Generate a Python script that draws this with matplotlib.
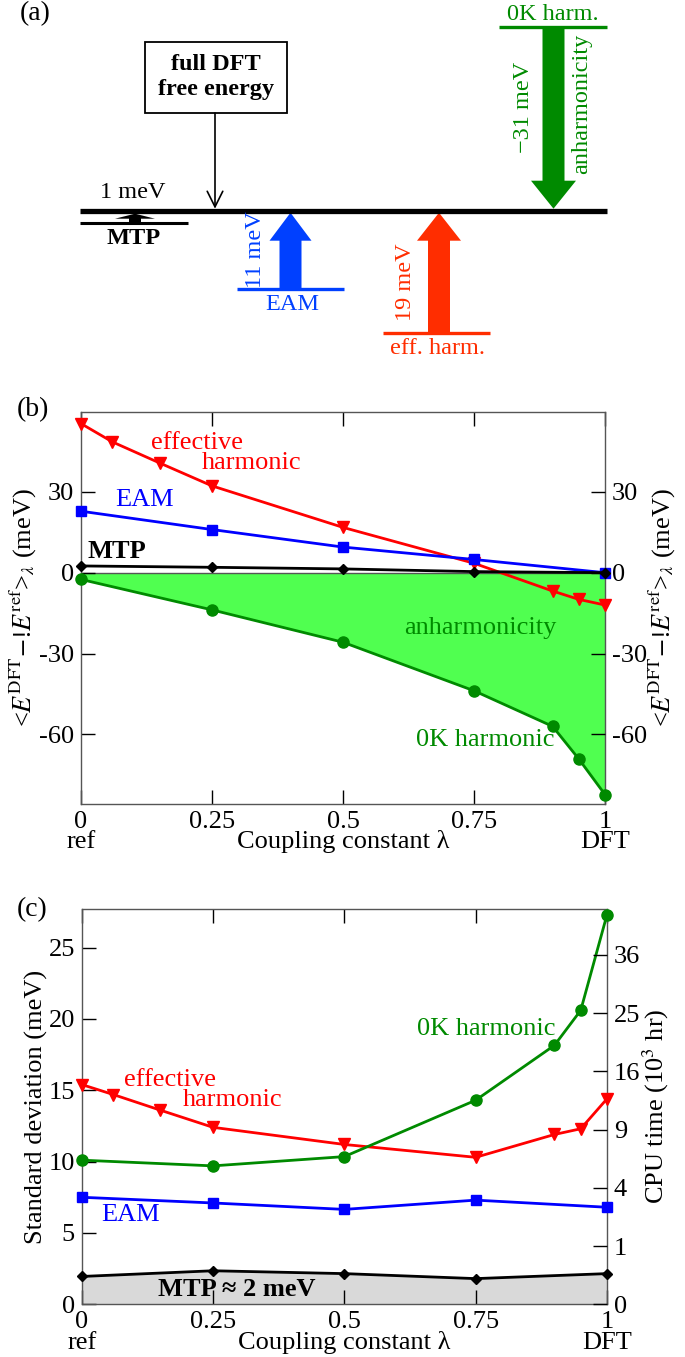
import numpy as np
import matplotlib.pyplot as plt
from matplotlib.patches import FancyArrow, Rectangle

plt.rcParams['font.family'] = ['Liberation Serif', 'DejaVu Serif']
plt.rcParams['mathtext.fontset'] = 'stix'
plt.rcParams['font.size'] = 19

# ---- data ----
lam_fine = [0, 0.06, 0.15, 0.25, 0.5, 0.75, 0.9, 0.95, 1]
lam_coarse = [0, 0.25, 0.5, 0.75, 1]
lam_0k = [0, 0.25, 0.5, 0.75, 0.9, 0.95, 1]

# (b) <E_DFT - E_ref>_lambda (meV)
b_effharm = [55.3, 48.5, 40.7, 32.2, 16.8, 3.5, -6.8, -9.9, -12.0]
b_eam = [22.8, 16.0, 9.5, 4.9, 0.0]
b_mtp = [2.5, 2.0, 1.4, 0.4, 0.0]
b_0k = [-2.5, -13.8, -25.8, -43.8, -57.0, -69.1, -82.3]

# (c) standard deviation (meV)
c_effharm = [15.4, 14.7, 13.6, 12.4, 11.2, 10.3, 11.9, 12.3, 14.4]
c_eam = [7.5, 7.1, 6.65, 7.3, 6.8]
c_mtp = [1.95, 2.35, 2.15, 1.8, 2.15]
c_0k = [10.1, 9.7, 10.35, 14.3, 18.15, 20.6, 27.3]

cpu_ticks = [0, 1, 4, 9, 16, 25, 36]   # 10^3 hr, sqrt scale
xticks = [0, 0.25, 0.5, 0.75, 1]
xticklabels = ['0', '0.25', '0.5', '0.75', '1']

# (a) free energy differences to full DFT (meV)
a_names = ['MTP', 'EAM', 'eff. harm.', '0K harm.']
a_values = [1, 11, 19, -31]

RED = '#ff0000'
BLUE = '#0000ff'
GREEN = '#008a00'
BLACK = '#000000'
FS = 19
FSA = 17.5

fig = plt.figure(figsize=(6.85, 13.57), dpi=100)

# ---------------- panel (a): schematic ----------------
axa = fig.add_axes([0, 1 - 360 / 1357, 1, 360 / 1357])
axa.set_xlim(0, 685)
axa.set_ylim(360, 0)
axa.axis('off')
axa.text(20, 14, '(a)', fontsize=20, va='center')

base_y = 210.7
axa.plot([80, 607], [base_y, base_y], color='k', lw=3.8, solid_capstyle='butt')

# full DFT box + thin arrow
axa.add_patch(Rectangle((145, 42), 142, 71, fill=False, ec='k', lw=1.3))
axa.text(216, 77, 'full DFT\nfree energy', ha='center', va='center',
         fontsize=FSA, fontweight='bold', linespacing=1.2)
axa.annotate('', xy=(215, base_y - 2), xytext=(215, 113),
             arrowprops=dict(arrowstyle='->', lw=1.2, color='k',
                             mutation_scale=28, shrinkA=0, shrinkB=0))

# MTP
axa.plot([80, 188], [222.7, 222.7], color='k', lw=2.2, solid_capstyle='butt')
axa.add_patch(FancyArrow(135, 222.7, 0, -9, width=12, head_width=40,
                         head_length=5, length_includes_head=True,
                         color='k', lw=0))
axa.text(133, 193, '%d meV' % a_values[0], ha='center', va='center', fontsize=FSA)
axa.text(134, 238, a_names[0], ha='center', va='center', fontsize=FSA,
         fontweight='bold')

# EAM
ca = '#0040ff'
axa.plot([237, 344], [289, 289], color=ca, lw=2.4, solid_capstyle='butt')
axa.add_patch(FancyArrow(290.5, 289, 0, -(289 - base_y - 2), width=22,
                         head_width=42, head_length=28,
                         length_includes_head=True, color=ca, lw=0))
axa.text(256, 250, '%d meV' % a_values[1], ha='center', va='center',
         rotation=90, color=ca, fontsize=FSA)
axa.text(292, 304, a_names[1], ha='center', va='center', color=ca, fontsize=FSA)

# effective harmonic
cr = '#ff2d00'
axa.plot([383, 490], [333, 333], color=cr, lw=2.4, solid_capstyle='butt')
axa.add_patch(FancyArrow(439, 333, 0, -(333 - base_y - 2), width=22,
                         head_width=44, head_length=28,
                         length_includes_head=True, color=cr, lw=0))
axa.text(406, 282, '%d meV' % a_values[2], ha='center', va='center',
         rotation=90, color=cr, fontsize=FSA)
axa.text(438, 349, a_names[2], ha='center', va='center', color=cr, fontsize=FSA)

# 0K harmonic
cg = '#008a00'
axa.plot([499, 607], [27, 27], color=cg, lw=2.4, solid_capstyle='butt')
axa.add_patch(FancyArrow(553.5, 27, 0, base_y - 2 - 27, width=22,
                         head_width=45, head_length=28,
                         length_includes_head=True, color=cg, lw=0))
axa.text(553, 14, a_names[3], ha='center', va='center', color=cg, fontsize=FSA)
axa.text(524, 107, '\u2212%d meV' % abs(a_values[3]), ha='center', va='center',
         rotation=90, color=cg, fontsize=FSA)
axa.text(582, 104, 'anharmonicity', ha='center', va='center',
         rotation=90, color=cg, fontsize=FSA)


def style_axes(ax):
    for s in ax.spines.values():
        s.set_color('#555555')
        s.set_linewidth(1.0)
    ax.tick_params(direction='in', length=10, width=1, top=True,
                   labelsize=FS, pad=5)
    ax.set_xlim(0, 1)
    ax.set_xticks(xticks)
    ax.set_xticklabels(xticklabels)
    for txt, xf in [('ref', 0), ('Coupling constant \u03bb', 0.5), ('DFT', 1)]:
        ax.annotate(txt, xy=(xf, 0), xycoords='axes fraction',
                    xytext=(0, -32), textcoords='offset points',
                    ha='center', va='baseline', fontsize=FS)


ylab_b = r'<$E^{\rm DFT}$$-$!$E^{\rm ref}$>$_\lambda$ (meV)'

# ---------------- panel (b) ----------------
axb = fig.add_axes([81 / 685, 1 - 804 / 1357, 524 / 685, 392 / 1357])
axb.fill_between(lam_0k, b_0k, 0, color='#50ff50', lw=0, zorder=1)
axb.axhline(0, color='#555555', lw=1.0, zorder=1.5)
kw = dict(lw=2.0, clip_on=False, zorder=3)
axb.plot(lam_fine, b_effharm, color=RED, marker='v', ms=8, **kw)
axb.plot(lam_coarse, b_eam, color=BLUE, marker='s', ms=6.5, **kw)
axb.plot(lam_coarse, b_mtp, color=BLACK, marker='D', ms=5.5, **kw)
axb.plot(lam_0k, b_0k, color=GREEN, marker='o', ms=8, **kw)
axb.set_ylim(-85.8, 59.6)
axb.set_yticks([30, 0, -30, -60])
axb.set_yticklabels(['30', '0', '-30', '-60'])
style_axes(axb)
axb.set_ylabel(ylab_b, fontsize=FS, labelpad=0)
axb2 = axb.twinx()
axb2.set_ylim(axb.get_ylim())
axb2.set_yticks([30, 0, -30, -60])
axb2.set_yticklabels(['30', '0', '-30', '-60'])
axb2.tick_params(direction='in', length=10, width=1, labelsize=FS, pad=5)
axb2.set_ylabel(ylab_b, fontsize=FS, labelpad=0)
for s in axb2.spines.values():
    s.set_visible(False)

axb.text(0.134, 48, 'effective', color=RED, va='center', fontsize=FS)
axb.text(0.231, 40.5, 'harmonic', color=RED, va='center', fontsize=FS)
axb.text(0.065, 27, 'EAM', color=BLUE, va='center', fontsize=FS)
axb.text(0.013, 7.8, 'MTP', color=BLACK, va='center', fontsize=FS,
         fontweight='bold')
axb.text(0.616, -20.4, 'anharmonicity', color=GREEN, va='center', fontsize=FS)
axb.text(0.639, -61.9, '0K harmonic', color=GREEN, va='center', fontsize=FS)
fig.text(17 / 685, 1 - 410 / 1357, '(b)', fontsize=20, va='center')

# ---------------- panel (c) ----------------
axc = fig.add_axes([81.7 / 685, 1 - 1304.3 / 1357, 525.3 / 685, 395.3 / 1357])
axc.fill_between(lam_coarse, c_mtp, 0, color='#d9d9d9', lw=0, zorder=1)
axc.plot(lam_fine, c_effharm, color=RED, marker='v', ms=8, **kw)
axc.plot(lam_coarse, c_eam, color=BLUE, marker='s', ms=6.5, **kw)
axc.plot(lam_coarse, c_mtp, color=BLACK, marker='D', ms=5.5, **kw)
axc.plot(lam_0k, c_0k, color=GREEN, marker='o', ms=8, **kw)
axc.set_ylim(0, 27.7)
axc.set_yticks([0, 5, 10, 15, 20, 25])
style_axes(axc)
axc.tick_params(axis='y', right=False)
axc.set_ylabel('Standard deviation (meV)', fontsize=FS, labelpad=0)

k_cpu = 4.08
axc2 = axc.twinx()
axc2.set_ylim(axc.get_ylim())
axc2.set_yticks([k_cpu * np.sqrt(t) for t in cpu_ticks])
axc2.set_yticklabels([str(t) for t in cpu_ticks])
axc2.tick_params(direction='in', length=10, width=1, labelsize=FS, pad=5)
axc2.set_ylabel(r'CPU time (10$^3$ hr)', fontsize=FS, labelpad=0)
for s in axc2.spines.values():
    s.set_visible(False)

axc.text(0.638, 19.3, '0K harmonic', color=GREEN, va='center', fontsize=FS)
axc.text(0.080, 15.7, 'effective', color=RED, va='center', fontsize=FS)
axc.text(0.193, 14.3, 'harmonic', color=RED, va='center', fontsize=FS)
axc.text(0.037, 6.25, 'EAM', color=BLUE, va='center', fontsize=FS)
axc.text(0.145, 1.07, 'MTP \u2248 2 meV', color=BLACK, va='center',
         fontsize=FS, fontweight='bold')
fig.text(17 / 685, 1 - 910 / 1357, '(c)', fontsize=20, va='center')

fig.savefig('out.png', dpi=100)
